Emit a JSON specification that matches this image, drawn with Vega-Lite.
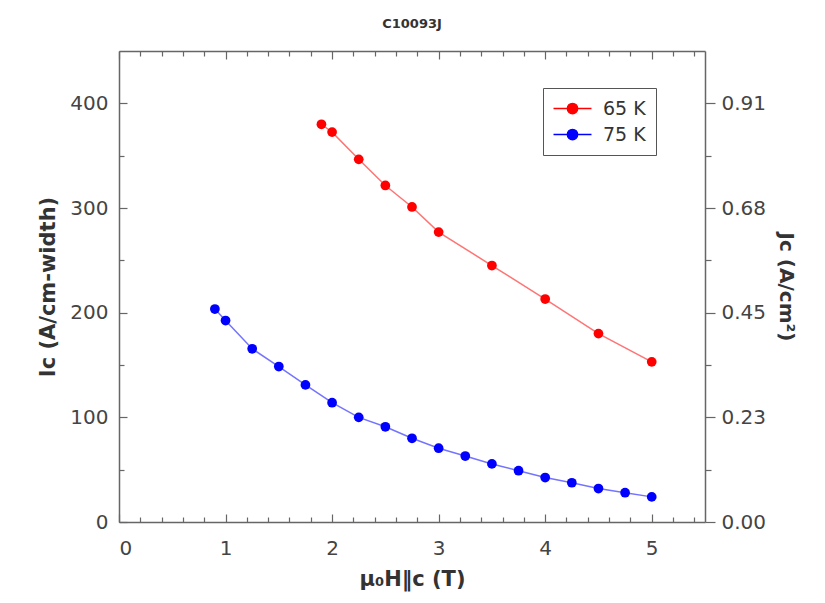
{
  "$schema": "https://vega.github.io/schema/vega-lite/v6.json",
  "autosize": {"type": "none"},
  "width": 586,
  "height": 471,
  "padding": {"left": 119, "top": 51, "right": 120, "bottom": 81},
  "background": "white",
  "title": {
    "text": "C10093J",
    "font": "DejaVu Sans",
    "fontSize": 13,
    "fontWeight": "bold",
    "color": "#333",
    "anchor": "middle",
    "offset": 19
  },
  "data": {
    "values": [
      {"series": "65 K", "H": 1.9, "Ic": 380},
      {"series": "65 K", "H": 2.0, "Ic": 372.5},
      {"series": "65 K", "H": 2.25, "Ic": 346.5},
      {"series": "65 K", "H": 2.5, "Ic": 321.5},
      {"series": "65 K", "H": 2.75, "Ic": 301},
      {"series": "65 K", "H": 3.0, "Ic": 277},
      {"series": "65 K", "H": 3.5, "Ic": 245},
      {"series": "65 K", "H": 4.0, "Ic": 213},
      {"series": "65 K", "H": 4.5, "Ic": 180},
      {"series": "65 K", "H": 5.0, "Ic": 153},
      {"series": "75 K", "H": 0.9, "Ic": 203.5},
      {"series": "75 K", "H": 1.0, "Ic": 192.5},
      {"series": "75 K", "H": 1.25, "Ic": 165.5},
      {"series": "75 K", "H": 1.5, "Ic": 148.5},
      {"series": "75 K", "H": 1.75, "Ic": 131},
      {"series": "75 K", "H": 2.0, "Ic": 114},
      {"series": "75 K", "H": 2.25, "Ic": 100},
      {"series": "75 K", "H": 2.5, "Ic": 91},
      {"series": "75 K", "H": 2.75, "Ic": 80},
      {"series": "75 K", "H": 3.0, "Ic": 70.5},
      {"series": "75 K", "H": 3.25, "Ic": 63},
      {"series": "75 K", "H": 3.5, "Ic": 55.5},
      {"series": "75 K", "H": 3.75, "Ic": 49},
      {"series": "75 K", "H": 4.0, "Ic": 42.5},
      {"series": "75 K", "H": 4.25, "Ic": 37.5},
      {"series": "75 K", "H": 4.5, "Ic": 32},
      {"series": "75 K", "H": 4.75, "Ic": 28},
      {"series": "75 K", "H": 5.0, "Ic": 24}
    ]
  },
  "layer": [
    {
      "mark": {"type": "line", "strokeWidth": 1.5, "strokeOpacity": 0.55},
      "encoding": {
        "x": {
          "field": "H", "type": "quantitative",
          "scale": {"domain": [0, 5.5], "nice": false},
          "axis": {
            "orient": "bottom", "values": [0, 1, 2, 3, 4, 5], "tickSize": -8,
            "labelPadding": 24, "title": "μ₀H‖c (T)", "titlePadding": 10,
            "titleFontSize": 21
          }
        },
        "y": {
          "field": "Ic", "type": "quantitative",
          "scale": {"domain": [0, 450], "nice": false},
          "axis": {
            "orient": "left", "values": [0, 100, 200, 300, 400], "tickSize": -8,
            "labelPadding": 19, "title": "Ic (A/cm-width)", "titlePadding": 11,
            "titleFontSize": 21
          }
        },
        "color": {
          "field": "series", "type": "nominal",
          "scale": {"domain": ["65 K", "75 K"], "range": ["#ff0000", "#0000ff"]}
        }
      }
    },
    {
      "mark": {"type": "point", "filled": true, "size": 95, "opacity": 1},
      "encoding": {
        "x": {
          "field": "H", "type": "quantitative",
          "axis": {
            "orient": "top", "values": [0, 1, 2, 3, 4, 5], "tickSize": -8,
            "labels": false, "title": null
          }
        },
        "y": {
          "field": "Ic", "type": "quantitative",
          "axis": {
            "orient": "right", "values": [0, 100, 200, 300, 400], "tickSize": 10,
            "labelPadding": 6,
            "labelExpr": "datum.value == 0 ? '0.00' : datum.value == 100 ? '0.23' : datum.value == 200 ? '0.45' : datum.value == 300 ? '0.68' : '0.91'",
            "title": "Jc (A/cm²)", "titlePadding": 10,
            "titleFontSize": 20
          }
        },
        "color": {
          "field": "series", "type": "nominal",
          "legend": {
            "orient": "none", "legendX": 424, "legendY": 37,
            "title": null,
            "strokeColor": "#555", "fillColor": "white", "padding": 10,
            "labelFont": "DejaVu Sans", "labelFontSize": 19, "labelColor": "#333",
            "labelOffset": 20, "rowPadding": 5, "symbolOffset": 9,
            "symbolType": "M-2,0H2M0.55,0A0.55,0.55,0,1,1,-0.55,0A0.55,0.55,0,1,1,0.55,0Z",
            "symbolSize": 361, "symbolStrokeWidth": 1.3,
            "encode": {
              "symbols": {
                "update": {
                  "fill": {"scale": "color", "field": "value"},
                  "stroke": {"scale": "color", "field": "value"},
                  "opacity": {"value": 1}
                }
              }
            }
          }
        }
      }
    },
    {
      "mark": {"type": "point", "opacity": 0},
      "encoding": {
        "x": {
          "field": "H", "type": "quantitative",
          "axis": {
            "orient": "bottom",
            "values": [0.2, 0.4, 0.6, 0.8, 1.2, 1.4, 1.6, 1.8, 2.2, 2.4, 2.6, 2.8, 3.2, 3.4, 3.6, 3.8, 4.2, 4.4, 4.6, 4.8, 5.2, 5.4],
            "tickSize": -5, "labels": false, "domain": false, "title": null
          }
        },
        "y": {
          "field": "Ic", "type": "quantitative",
          "axis": {
            "orient": "left", "values": [50, 150, 250, 350],
            "tickSize": -5, "labels": false, "domain": false, "title": null
          }
        }
      }
    },
    {
      "mark": {"type": "point", "opacity": 0},
      "encoding": {
        "x": {
          "field": "H", "type": "quantitative",
          "axis": {
            "orient": "top",
            "values": [0.2, 0.4, 0.6, 0.8, 1.2, 1.4, 1.6, 1.8, 2.2, 2.4, 2.6, 2.8, 3.2, 3.4, 3.6, 3.8, 4.2, 4.4, 4.6, 4.8, 5.2, 5.4],
            "tickSize": -5, "labels": false, "domain": false, "title": null
          }
        },
        "y": {
          "field": "Ic", "type": "quantitative",
          "axis": {
            "orient": "right", "values": [50, 150, 250, 350],
            "tickSize": 6, "labels": false, "domain": false, "title": null
          }
        }
      }
    }
  ],
  "resolve": {"axis": {"x": "independent", "y": "independent"}},
  "config": {
    "view": {"stroke": null},
    "axis": {
      "grid": false,
      "domainColor": "#666",
      "domainWidth": 1.5,
      "tickColor": "#666",
      "tickWidth": 1.2,
      "labelFont": "DejaVu Sans",
      "labelFontSize": 20,
      "labelColor": "#444",
      "titleFont": "DejaVu Sans",
      "titleFontSize": 20,
      "titleFontWeight": "bold",
      "titleColor": "#333"
    }
  }
}
